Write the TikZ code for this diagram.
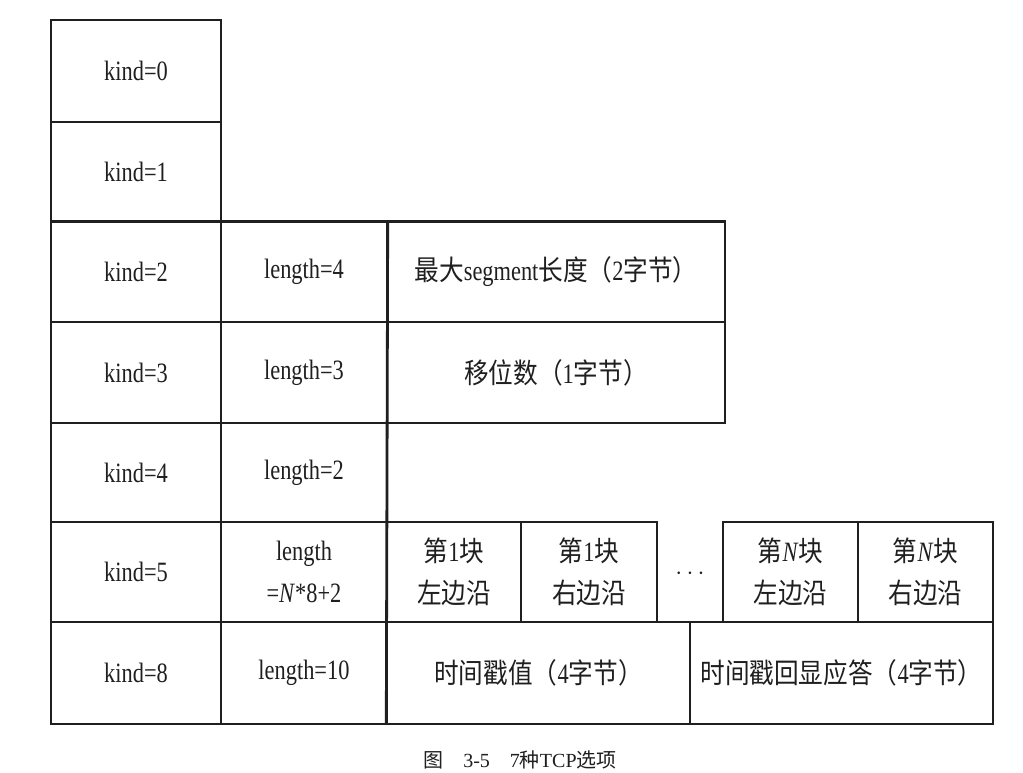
\documentclass[tikz,border=0pt]{standalone}
\usepackage{fontspec}
\setmainfont[FakeStretch=0.8]{Liberation Serif}
\newfontfamily\cjk[FakeStretch=0.88]{Noto Sans CJK SC}
\newfontfamily\capfont{Liberation Serif}
\newfontfamily\capcjk{Noto Sans CJK SC}
\newcommand\zh[1]{{\cjk #1}}
\begin{document}
\begin{tikzpicture}[x=1pt,y=-1pt,
  cell/.style={draw=ink, line width=1.4pt, inner sep=0pt, align=center,
    font=\fontsize{28}{42}\selectfont, text=ink},
  plain/.style={inner sep=0pt, align=center, font=\fontsize{28}{42}\selectfont, text=ink},
  heavy/.style={draw=ink, line width=2.8pt}]
\colorlet{ink}{black!88}
\useasboundingbox[fill=white] (0,0) rectangle (1023,773);
% column 1
\node[cell, minimum width=170pt, minimum height=102pt] (k0) at (136,71) {kind=0};
\node[cell, minimum width=170pt, minimum height=100pt] (k1) at (136,172) {kind=1};
\node[cell, minimum width=170pt, minimum height=100pt] (k2) at (136,272) {kind=2};
\node[cell, minimum width=170pt, minimum height=101pt] (k3) at (136,372.5) {kind=3};
\node[cell, minimum width=170pt, minimum height=99pt] (k4) at (136,472.5) {kind=4};
\node[cell, minimum width=170pt, minimum height=100pt] (k5) at (136,572) {kind=5};
\node[cell, minimum width=170pt, minimum height=102pt] (k8) at (136,673) {kind=8};
% column 2
\node[cell, minimum width=166pt, minimum height=100pt] (l2) at (304,272) {length=4};
\node[cell, minimum width=166pt, minimum height=101pt] (l3) at (304,372.5) {length=3};
\node[cell, minimum width=166pt, minimum height=99pt] (l4) at (304,472.5) {length=2};
\node[cell, minimum width=166pt, minimum height=100pt] (l5) at (304,572) {length\\=\textit{N}*8+2};
\node[cell, minimum width=166pt, minimum height=102pt] (l8) at (304,673) {length=10};
% value fields
\node[cell, minimum width=338pt, minimum height=100pt] (v2) at (556,272) {\zh{最大}segment\zh{长度（}2\zh{字节）}};
\node[cell, minimum width=338pt, minimum height=101pt] (v3) at (556,372.5) {\zh{移位数（}1\zh{字节）}};
% SACK blocks
\node[cell, minimum width=134pt, minimum height=100pt] (b1l) at (454,572) {\zh{第}1\zh{块}\\\zh{左边沿}};
\node[cell, minimum width=136pt, minimum height=100pt] (b1r) at (589,572) {\zh{第}1\zh{块}\\\zh{右边沿}};
\node[plain] (dots) at (690,574) {\fontsize{26}{26}\selectfont\capfont $\cdots$};
\node[cell, minimum width=135pt, minimum height=100pt] (bNl) at (790.5,572) {\zh{第}\textit{N}\zh{块}\\\zh{左边沿}};
\node[cell, minimum width=135pt, minimum height=100pt] (bNr) at (925.5,572) {\zh{第}\textit{N}\zh{块}\\\zh{右边沿}};
% timestamps
\node[cell, minimum width=303pt, minimum height=102pt] (ts) at (538.5,673) {\zh{时间戳值（}4\zh{字节）}};
\node[cell, minimum width=303pt, minimum height=102pt] (tr) at (841.5,673) {\zh{时间戳回显应答（}4\zh{字节）}};
% heavy rules
\draw[heavy] (k2.north west) -- (v2.north east);
\draw[heavy] (l2.north east) -- (ts.south west);
% caption
\node[inner sep=0pt, text=ink, font=\fontsize{20}{24}\selectfont\capfont] (cap) at (520,760)
  {{\capcjk 图}\quad 3-5\quad 7{\capcjk 种}TCP{\capcjk 选项}};
\end{tikzpicture}
\end{document}
